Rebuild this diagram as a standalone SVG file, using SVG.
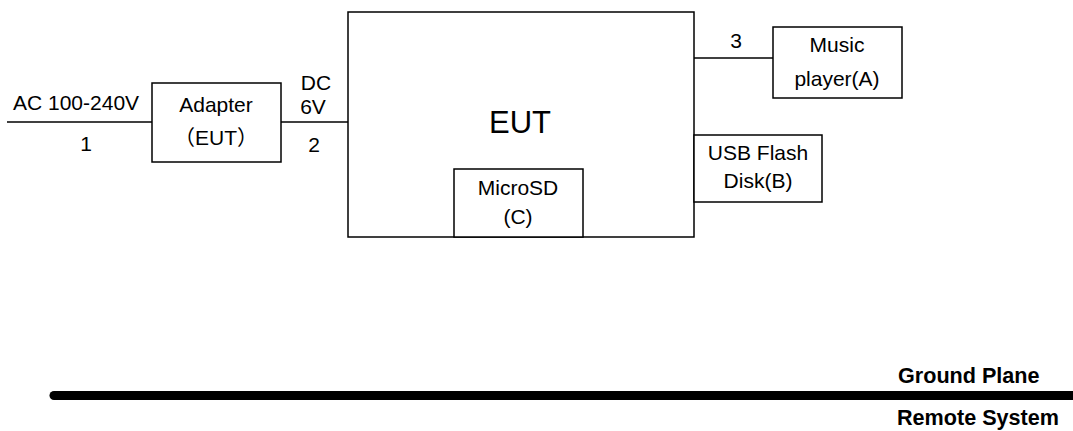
<svg xmlns="http://www.w3.org/2000/svg" width="1073" height="431" viewBox="0 0 1073 431">
<style>
.b{fill:#fff;stroke:#000;stroke-width:1.5}
.l{stroke:#000;stroke-width:1.5;fill:none}
.t{font-family:"Liberation Sans",Arial,"Noto Sans CJK SC",sans-serif;font-size:21px;fill:#000}
.c{text-anchor:middle}
.g{font-family:"Liberation Sans",Arial,sans-serif;font-size:21.6px;font-weight:bold;fill:#000}
</style>
<rect width="1073" height="431" fill="#fff"/>
<g id="connectors">
<line class="l" x1="7" y1="122" x2="152" y2="122"/>
<line class="l" x1="281" y1="122" x2="348" y2="122"/>
<line class="l" x1="694" y1="58" x2="773" y2="58"/>
<line x1="54" y1="395.5" x2="1073" y2="395.5" stroke="#000" stroke-width="9" stroke-linecap="round"/>
</g>
<g id="labels">
<text class="t" x="13" y="110">AC 100-240V</text>
<text class="t c" x="86" y="151">1</text>
<text class="t c" x="316" y="90">DC</text>
<text class="t c" x="313" y="114">6V</text>
<text class="t c" x="314" y="152">2</text>
<text class="t c" x="736" y="48">3</text>
</g>
<g id="adapter">
<rect class="b" x="152" y="83" width="129" height="79"/>
<text class="t c" x="216" y="112">Adapter</text>
<text class="t c" x="216" y="145">（EUT）</text>
</g>
<g id="eut">
<rect class="b" x="348" y="12" width="346" height="225"/>
<text class="t c" x="520" y="133" style="font-size:31px">EUT</text>
</g>
<g id="microsd">
<rect class="b" x="454" y="169" width="129" height="68"/>
<text class="t c" x="518" y="195">MicroSD</text>
<text class="t c" x="518" y="224">(C)</text>
</g>
<g id="music">
<rect class="b" x="773" y="27" width="129" height="71"/>
<text class="t c" x="837" y="52">Music</text>
<text class="t c" x="837" y="86">player(A)</text>
</g>
<g id="usb">
<rect class="b" x="694" y="135" width="128" height="67"/>
<text class="t c" x="758" y="160">USB Flash</text>
<text class="t c" x="758" y="188">Disk(B)</text>
</g>
<g id="ground">
<text class="g" x="898" y="383">Ground Plane</text>
<text class="g" x="897" y="425">Remote System</text>
</g>
</svg>
